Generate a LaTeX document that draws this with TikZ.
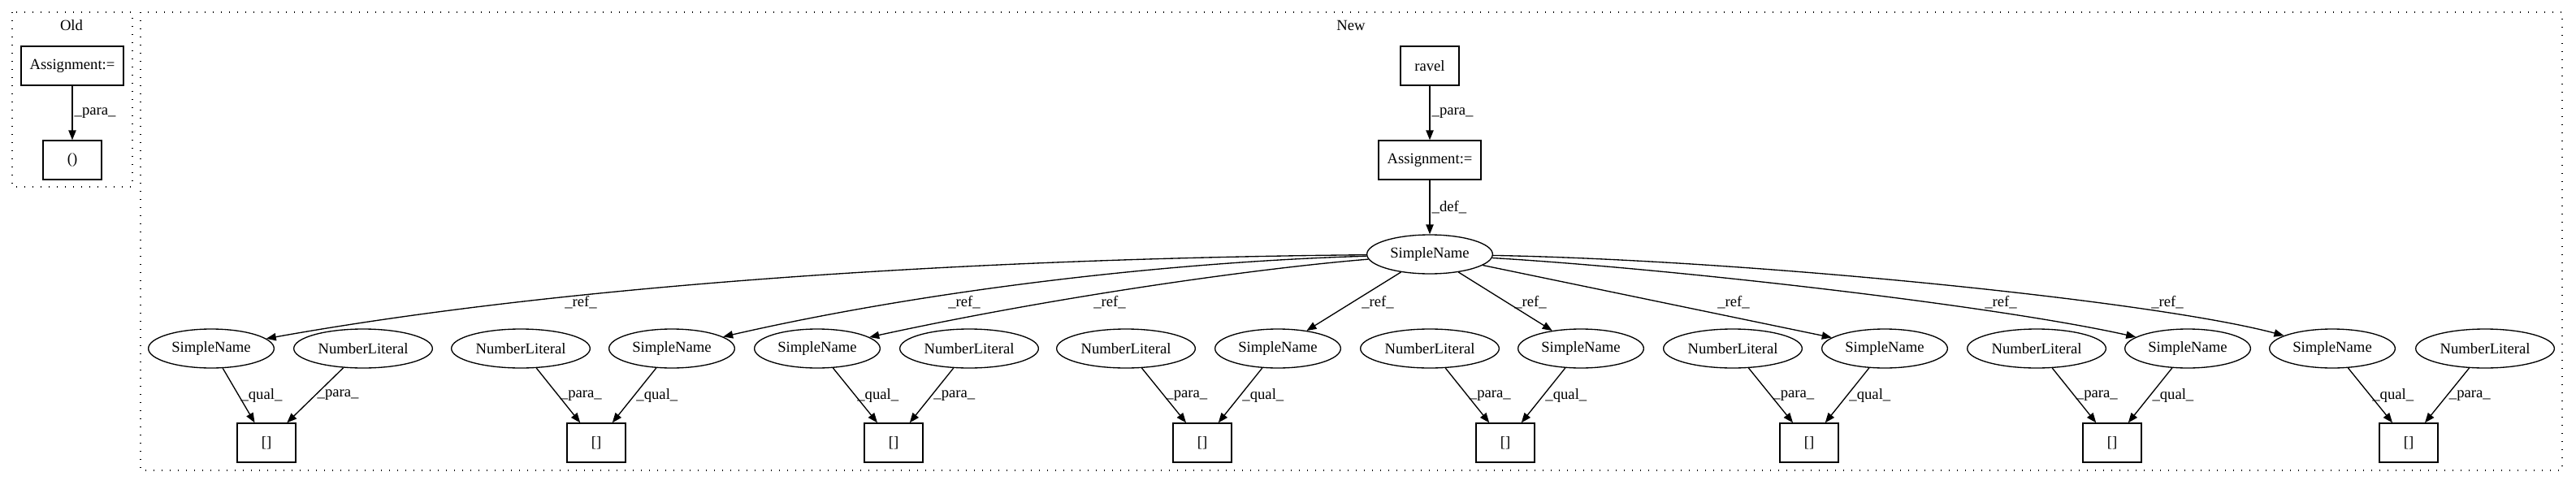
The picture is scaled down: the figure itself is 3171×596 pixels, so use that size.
\documentclass[tikz,border=0pt]{standalone}
\usepackage{fontspec}
\setmainfont{Liberation Serif}
\usetikzlibrary{arrows.meta,shapes.geometric}
\begin{document}
\begin{tikzpicture}[x=0.75pt,y=-0.75pt,
	every node/.style={font=\fontsize{14}{16}\selectfont},
	box/.style={draw,rectangle,line width=1pt,minimum height=36pt,minimum width=54pt,inner sep=0pt},
	oval/.style={draw,ellipse,line width=1pt,minimum height=36pt,inner sep=0pt},
	sname/.style={oval,minimum width=116pt},
	numlit/.style={oval,minimum width=128pt},
	lbl/.style={inner sep=1.5pt},
	arr/.style={-{Triangle[length=9pt,width=7pt]},line width=1pt},
	cluster/.style={draw,line width=1pt,dash pattern=on 1pt off 6.5pt}]
				\useasboundingbox (0,0) rectangle (3171,596);
				% clusters
				\draw[cluster] (15,15) rectangle (163,230);
				\draw[cluster] (173,15) rectangle (3154,579);
				\node (old) at (88,31) {Old};
				\node (new) at (1663,31) {New};
				% old
				\node[box,minimum width=94.5pt] (a0) at (89,81) {Assignment:=};
				\node[box] (p0) at (89,197) {()};
				\draw[arr] (a0) -- node[lbl,right]{\_para\_} (p0);
				% new
				\node[box] (rv) at (1760,81) {ravel};
				\node[box,minimum width=94.5pt] (as) at (1760,197) {Assignment:=};
				\node[sname] (sn) at (1760,313) {SimpleName};
				\draw[arr] (rv) -- node[lbl,right]{\_para\_} (as);
				\draw[arr] (as) -- node[lbl,right]{\_def\_} (sn);
				\foreach \i/\sx/\nx/\bx in {1/260/447/328,2/827/641/734,3/1006/1193/1100,4/1573/1386/1480,
					5/1946/1760/1853,6/2320/2133/2227,7/2693/2507/2600,8/2871/3059/2965}{
					\node[sname] (s\i) at (\sx,429) {SimpleName};
					\node[numlit] (n\i) at (\nx,429) {NumberLiteral};
					\node[box] (b\i) at (\bx,545) {[]};
					\draw[arr] (s\i) -- node[lbl,right]{\_qual\_} (b\i);
					\draw[arr] (n\i) -- node[lbl,right]{\_para\_} (b\i);
					}
				\draw[arr] (sn) .. controls (1200,318) and (700,350) .. (s1);
				\draw[arr] (sn) .. controls (1450,322) and (1150,355) .. (s2);
				\draw[arr] (sn) .. controls (1550,330) and (1300,365) .. (s3);
				\draw[arr] (sn) -- (s4);
				\draw[arr] (sn) -- (s5);
				\draw[arr] (sn) -- (s6);
				\draw[arr] (sn) .. controls (2050,330) and (2450,375) .. (s7);
				\draw[arr] (sn) .. controls (2150,320) and (2650,370) .. (s8);
				\foreach \i/\x in {1/715,2/1187,3/1366,4/1696,5/1884,6/2134,7/2463,8/2668}
					\node[lbl] (r\i) at (\x,372) {\_ref\_};
				\end{tikzpicture}
\end{document}
